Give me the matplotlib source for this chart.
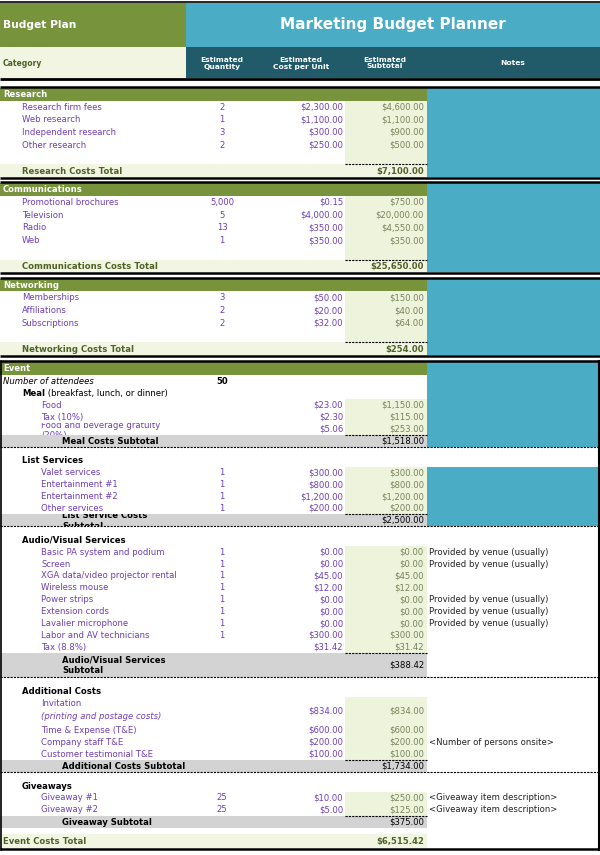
import matplotlib.pyplot as plt
from matplotlib.patches import Rectangle
from matplotlib.transforms import Bbox

# ---------------- data ----------------
research_items = ["Research firm fees", "Web research", "Independent research", "Other research"]
research_qty = [2, 1, 3, 2]
research_cost = [2300.00, 1100.00, 300.00, 250.00]
research_sub = [4600.00, 1100.00, 900.00, 500.00]
research_total = 7100.00

comm_items = ["Promotional brochures", "Television", "Radio", "Web"]
comm_qty = [5000, 5, 13, 1]
comm_cost = [0.15, 4000.00, 350.00, 350.00]
comm_sub = [750.00, 20000.00, 4550.00, 350.00]
comm_total = 25650.00

net_items = ["Memberships", "Affiliations", "Subscriptions"]
net_qty = [3, 2, 2]
net_cost = [50.00, 20.00, 32.00]
net_sub = [150.00, 40.00, 64.00]
net_total = 254.00

attendees = 50
meal_items = ["Food", "Tax (10%)", "Food and beverage gratuity\n(20%)"]
meal_cost = [23.00, 2.30, 5.06]
meal_sub = [1150.00, 115.00, 253.00]
meal_total = 1518.00

list_items = ["Valet services", "Entertainment #1", "Entertainment #2", "Other services"]
list_qty = [1, 1, 1, 1]
list_cost = [300.00, 800.00, 1200.00, 200.00]
list_sub = [300.00, 800.00, 1200.00, 200.00]
list_total = 2500.00

av_items = ["Basic PA system and podium", "Screen", "XGA data/video projector rental",
            "Wireless mouse", "Power strips", "Extension cords", "Lavalier microphone",
            "Labor and AV technicians", "Tax (8.8%)"]
av_qty = [1, 1, 1, 1, 1, 1, 1, 1, None]
av_cost = [0.00, 0.00, 45.00, 12.00, 0.00, 0.00, 0.00, 300.00, 31.42]
av_sub = [0.00, 0.00, 45.00, 12.00, 0.00, 0.00, 0.00, 300.00, 31.42]
venue = "Provided by venue (usually)"
av_notes = [venue, venue, "", "", venue, venue, venue, "", ""]
av_total = 388.42

add_items = ["Invitation", "Time & Expense (T&E)", "Company staff T&E", "Customer testimonial T&E"]
add_cost = [834.00, 600.00, 200.00, 100.00]
add_sub = [834.00, 600.00, 200.00, 100.00]
add_notes = ["", "", "<Number of persons onsite>", ""]
invitation_note = "(printing and postage costs)"
add_total = 1734.00

give_items = ["Giveaway #1", "Giveaway #2"]
give_qty = [25, 25]
give_cost = [10.00, 5.00]
give_sub = [250.00, 125.00]
give_notes = ["<Giveaway item description>", "<Giveaway item description>"]
give_total = 375.00

event_total = 6515.42

col_heads = ["Estimated\nQuantity", "Estimated\nCost per Unit", "Estimated\nSubtotal", "Notes"]

# ---------------- style ----------------
GREEN = "#77933c"
BLUE = "#4bacc6"
TEAL = "#215a69"
CREAM = "#f1f5e2"
COLGREEN = "#eef3dc"
GRAY = "#d3d3d3"
PURPLE = "#6f3fb6"
SUBCOL = "#76845a"
OLIVE = "#4f6228"
NOTE = "#222222"
FS = 6.1
DASH = (0, (2, 1))

X_LABEL = 22
X_ITEM2 = 41
X_SUBLBL = 62
X_QTY = 222
X_COST = 343
X_SUB = 424
X_NOTE = 429
X_COL0 = 345
X_RIGHT = 427
W = 600

plt.rcParams['font.family'] = ['DejaVu Sans']
fig = plt.figure(figsize=(6, 8.55), dpi=100)
ax = fig.add_axes([0, 0, 1, 1])
ax.set_xlim(0, W)
ax.set_ylim(855, 0)
ax.axis("off")


def box(x0, y0, x1, y1, color, z=0):
    ax.add_patch(Rectangle((x0, y0), x1 - x0, y1 - y0, facecolor=color,
                           edgecolor="none", zorder=z))


def hline(y, x0, x1, lw=1.8, ls="-", color="black"):
    ax.plot([x0, x1], [y, y], color=color, lw=lw, ls=ls,
            solid_capstyle="butt", zorder=3)


def txt(x, y, s, ha="left", color="black", bold=False, italic=False, size=FS, clip=None):
    t = ax.text(x, y, s, ha=ha, va="center", color=color, fontsize=size,
                fontweight="bold" if bold else "normal",
                fontstyle="italic" if italic else "normal", zorder=4)
    if clip is not None:
        p = ax.transData.transform([(clip[0], clip[1]), (clip[2], clip[3])])
        bb = Bbox.from_extents(p[:, 0].min(), p[:, 1].min(), p[:, 0].max(), p[:, 1].max())
        t.set_clip_box(bb)
        t.set_clip_on(True)
    return t


def money(v):
    return "${:,.2f}".format(v)


# ---------------- header ----------------
hline(2, 0, W, lw=1.2)
box(0, 3, 186, 47, GREEN)
box(186, 3, W, 47, BLUE)
txt(3, 25, "Budget Plan", color="white", bold=True, size=7.7)
txt(393, 25, "Marketing Budget Planner", ha="center", color="white", bold=True, size=11)
box(0, 47, 186, 78, CREAM)
box(186, 47, W, 78, TEAL)
txt(3, 64, "Category", color=OLIVE, bold=True, size=5.5)
for xc, h in zip([222, 301, 385, 513], col_heads):
    txt(xc, 63, h, ha="center", color="white", bold=True, size=5.4)
hline(79, 0, W, lw=2)


# ---------------- simple sections ----------------
def simple_section(y0, name, items, qty, cost, sub, total, R=12.7):
    n = len(items)
    end = y0 + R * (n + 3)
    hline(y0 - 0.9, 0, W)
    box(0, y0, X_RIGHT, y0 + R, GREEN)
    box(X_RIGHT, y0, W, end, BLUE)
    txt(3, y0 + R / 2, name, color="white", bold=True)
    top = y0 + R
    ty = top + R * (n + 1)
    box(X_COL0, top, X_RIGHT, ty, COLGREEN)
    for i in range(n):
        yc = top + (i + 0.5) * R
        txt(X_LABEL, yc, items[i], color=PURPLE)
        txt(X_QTY, yc, "{:,}".format(qty[i]), ha="center", color=PURPLE)
        txt(X_COST, yc, money(cost[i]), ha="right", color=PURPLE)
        txt(X_SUB, yc, money(sub[i]), ha="right", color=SUBCOL)
    box(0, ty, X_RIGHT, end, CREAM)
    hline(ty, X_COL0, X_RIGHT, lw=0.8, ls=DASH)
    txt(X_LABEL, (ty + end) / 2 + 0.5, name + " Costs Total", color=OLIVE, bold=True)
    txt(X_SUB, (ty + end) / 2 + 0.5, money(total), ha="right", color=OLIVE, bold=True)
    hline(end + 0.9, 0, W)
    return end


y = simple_section(88, "Research", research_items, research_qty, research_cost,
                   research_sub, research_total)
y = simple_section(y + 6.5, "Communications", comm_items, comm_qty, comm_cost,
                   comm_sub, comm_total)
y = simple_section(y + 6.5, "Networking", net_items, net_qty, net_cost,
                   net_sub, net_total)

# ---------------- event section ----------------
R = 11.9
ev0 = 362
ev_end = 848
hline(ev0 - 0.9, 0, W)
box(0, ev0, X_RIGHT, ev0 + 13, GREEN)
txt(3, ev0 + 6.5, "Event", color="white", bold=True)
y = ev0 + 13


def item_rows(y, items, qty, cost, sub, notes, heights):
    top = y
    for i in range(len(items)):
        h = heights[i]
        yc = y + h / 2
        if "\n" in items[i]:
            # wrapped text in a row that is too short: Excel clips it
            txt(X_ITEM2, yc + 1.5, items[i], color=PURPLE, clip=(0, y, X_COL0, y + h))
        elif h > 1.5 * R:
            txt(X_ITEM2, y + 7, items[i], color=PURPLE)
        else:
            txt(X_ITEM2, yc, items[i], color=PURPLE)
        if qty is not None and qty[i] is not None:
            txt(X_QTY, yc, "{:,}".format(qty[i]), ha="center", color=PURPLE)
        txt(X_COST, yc, money(cost[i]), ha="right", color=PURPLE)
        txt(X_SUB, yc, money(sub[i]), ha="right", color=SUBCOL)
        if notes is not None and notes[i]:
            txt(X_NOTE, yc, notes[i], color=NOTE)
        y += h
    box(X_COL0, top, X_RIGHT, y, COLGREEN)
    hline(y, X_COL0, X_RIGHT, lw=0.8, ls=DASH)
    return y


def subtotal_row(y, label, value, h=R, dashed=True, clip=False):
    box(0, y, X_RIGHT, y + h, GRAY)
    if clip:
        txt(X_SUBLBL, y + h / 2 + 0.5, label, bold=True, clip=(0, y, X_COL0, y + h))
    else:
        txt(X_SUBLBL, y + h / 2 + 0.5, label, bold=True)
    txt(X_SUB, y + h / 2, money(value), ha="right")
    if dashed:
        hline(y + h, 0, W, lw=0.8, ls=DASH)
    return y + h


# attendees
txt(3, y + 6, "Number of attendees", italic=True)
txt(X_QTY, y + 6, str(attendees), ha="center", bold=True)
y += 12
# meal
m = txt(X_LABEL, y + 6, "Meal", bold=True)
ax.annotate(" (breakfast, lunch, or dinner)", xy=(1, 0), xycoords=m, va="bottom",
            fontsize=FS, color="black", zorder=4)
y += 12
y = item_rows(y, meal_items, None, meal_cost, meal_sub, None, [12] * 3)
y = subtotal_row(y, "Meal Costs Subtotal", meal_total)
box(X_RIGHT, ev0, W, y, BLUE)
y += 8

# list services
txt(X_LABEL, y + R / 2, "List Services", bold=True)
y += R
blue_top = y
y = item_rows(y, list_items, list_qty, list_cost, list_sub, None, [R] * 4)
y = subtotal_row(y, "List Service Costs\nSubtotal", list_total, clip=True)
box(X_RIGHT, blue_top, W, y, BLUE)
y += 8

# audio / visual
txt(X_LABEL, y + R / 2, "Audio/Visual Services", bold=True)
y += R
y = item_rows(y, av_items, av_qty, av_cost, av_sub, av_notes, [R] * len(av_items))
y = subtotal_row(y, "Audio/Visual Services\nSubtotal", av_total, h=2 * R)
y += 8

# additional costs
txt(X_LABEL, y + R / 2, "Additional Costs", bold=True)
y += R
inv_top = y
y = item_rows(y, add_items, None, add_cost, add_sub, add_notes, [27.5] + [R] * 3)
txt(X_ITEM2, inv_top + 20, invitation_note, color=PURPLE, italic=True)
y = subtotal_row(y, "Additional Costs Subtotal", add_total)
y += 8

# giveaways
txt(X_LABEL, y + R / 2, "Giveaways", bold=True)
y += R
y = item_rows(y, give_items, give_qty, give_cost, give_sub, give_notes, [R] * 2)
y = subtotal_row(y, "Giveaway Subtotal", give_total, dashed=False)

# event total
box(0, 834, X_RIGHT, ev_end, CREAM)
txt(3, 841.5, "Event Costs Total", color=OLIVE, bold=True)
txt(X_SUB, 841.5, money(event_total), ha="right", color=OLIVE, bold=True)
hline(ev_end + 0.9, 0, W)
ax.plot([0.6, 0.6], [ev0 - 1, ev_end + 1.5], color="black", lw=1.2, zorder=3)
ax.plot([599.2, 599.2], [ev0 - 1, ev_end + 1.5], color="black", lw=1.5, zorder=3)

fig.savefig("out.png", dpi=100)
